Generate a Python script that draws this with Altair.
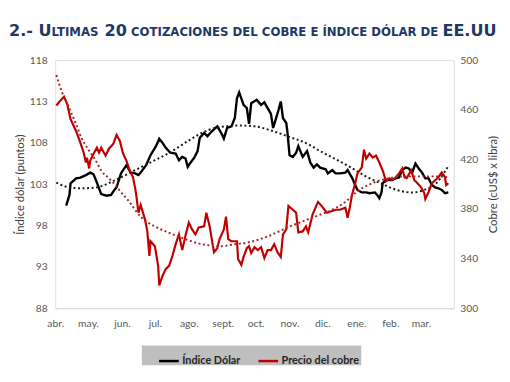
import json
import altair as alt
import pandas as pd

MESES = ["ene.", "feb.", "mar.", "abr.", "may.", "jun.", "jul.", "ago.", "sept.", "oct.", "nov.", "dic."]
SERIES = ["Índice Dólar", "Precio del cobre"]
TICKS_DOLAR = [88, 93, 98, 103, 108, 113, 118]
TICKS_COBRE = [300, 340, 380, 420, 460, 500]

dolar_fecha = [
    "2022-04-11", "2022-04-14", "2022-04-15", "2022-04-20", "2022-04-24", "2022-04-29",
    "2022-05-03", "2022-05-06", "2022-05-09", "2022-05-11", "2022-05-13", "2022-05-18",
    "2022-05-22", "2022-05-25", "2022-05-27", "2022-05-31", "2022-06-05", "2022-06-09",
    "2022-06-13", "2022-06-16", "2022-06-18", "2022-06-23", "2022-06-27", "2022-07-02",
    "2022-07-05", "2022-07-08", "2022-07-11", "2022-07-15", "2022-07-20", "2022-07-23",
    "2022-07-26", "2022-07-29", "2022-07-31", "2022-08-02", "2022-08-06", "2022-08-09",
    "2022-08-11", "2022-08-15", "2022-08-18", "2022-08-22", "2022-08-27", "2022-08-31",
    "2022-09-02", "2022-09-05", "2022-09-09", "2022-09-12", "2022-09-14", "2022-09-16",
    "2022-09-20", "2022-09-23", "2022-09-25", "2022-09-27", "2022-10-02", "2022-10-06",
    "2022-10-09", "2022-10-12", "2022-10-15", "2022-10-17", "2022-10-20", "2022-10-22",
    "2022-10-24", "2022-10-26", "2022-10-29", "2022-10-30", "2022-11-01", "2022-11-04",
    "2022-11-07", "2022-11-09", "2022-11-13", "2022-11-17", "2022-11-20", "2022-11-23",
    "2022-11-26", "2022-11-29", "2022-12-04", "2022-12-06", "2022-12-10", "2022-12-13",
    "2022-12-17", "2022-12-22", "2022-12-24", "2022-12-28", "2022-12-31", "2023-01-02",
    "2023-01-06", "2023-01-10", "2023-01-13", "2023-01-18", "2023-01-20", "2023-01-22",
    "2023-01-24", "2023-01-25", "2023-01-28", "2023-02-02", "2023-02-06", "2023-02-09",
    "2023-02-12", "2023-02-15", "2023-02-18", "2023-02-21", "2023-02-24", "2023-02-27",
    "2023-03-02", "2023-03-05", "2023-03-08", "2023-03-11", "2023-03-14", "2023-03-17",
    "2023-03-20", "2023-03-23", "2023-03-26",
]
dolar_valor = [
    100.4, 101.7, 103.1, 103.7, 103.8, 104.1,
    104.4, 104.2, 103.2, 102.5, 101.8, 101.6,
    101.7, 102.3, 102.6, 104.3, 105.3, 104.4,
    104.3, 104.1, 104.4, 105.3, 106.5, 107.6,
    108.5, 108.0, 107.4, 106.8, 106.7, 105.9,
    106.3, 106.1, 105.1, 105.5, 106.2, 107.0,
    108.6, 109.2, 108.8, 109.4, 110.0, 109.1,
    108.5, 109.8, 110.0, 111.0, 113.4, 114.1,
    112.6, 112.2, 110.3, 112.8, 113.2, 112.6,
    112.9, 112.2, 111.5, 109.8, 111.1, 112.0,
    113.0, 111.0, 110.4, 109.4, 106.5, 106.3,
    106.8, 107.6, 106.3, 107.0, 105.6, 105.0,
    105.4, 105.0, 104.8, 104.3, 104.7, 104.3,
    104.3, 104.4, 104.7, 103.8, 102.9, 102.3,
    102.0, 102.0, 101.9, 102.0, 101.7, 101.3,
    102.0, 103.1, 103.5, 103.5, 103.7, 103.8,
    104.7, 105.0, 104.9, 104.4, 105.5, 104.9,
    104.4, 103.7, 103.7, 102.9, 102.6, 102.5,
    102.3, 101.9, 102.0,
]

cobre_fecha = [
    "2022-04-02", "2022-04-05", "2022-04-09", "2022-04-12", "2022-04-15", "2022-04-20",
    "2022-04-24", "2022-04-27", "2022-04-29", "2022-04-30", "2022-05-02", "2022-05-03",
    "2022-05-06", "2022-05-09", "2022-05-11", "2022-05-13", "2022-05-17", "2022-05-20",
    "2022-05-24", "2022-05-27", "2022-05-30", "2022-06-02", "2022-06-05", "2022-06-08",
    "2022-06-11", "2022-06-13", "2022-06-14", "2022-06-16", "2022-06-18", "2022-06-22",
    "2022-06-24", "2022-06-26", "2022-06-27", "2022-07-01", "2022-07-04", "2022-07-05",
    "2022-07-08", "2022-07-11", "2022-07-14", "2022-07-17", "2022-07-20", "2022-07-23",
    "2022-07-26", "2022-07-29", "2022-08-01", "2022-08-04", "2022-08-07", "2022-08-10",
    "2022-08-15", "2022-08-17", "2022-08-20", "2022-08-24", "2022-08-27", "2022-08-29",
    "2022-09-02", "2022-09-04", "2022-09-06", "2022-09-09", "2022-09-14", "2022-09-15",
    "2022-09-18", "2022-09-20", "2022-09-23", "2022-09-25", "2022-09-27", "2022-09-30",
    "2022-10-03", "2022-10-06", "2022-10-09", "2022-10-12", "2022-10-15", "2022-10-18",
    "2022-10-21", "2022-10-24", "2022-10-26", "2022-10-29", "2022-10-31", "2022-11-04",
    "2022-11-07", "2022-11-09", "2022-11-13", "2022-11-16", "2022-11-18", "2022-11-22",
    "2022-11-25", "2022-11-27", "2022-12-01", "2022-12-05", "2022-12-08", "2022-12-13",
    "2022-12-17", "2022-12-22", "2022-12-24", "2022-12-26", "2022-12-28", "2022-12-31",
    "2023-01-02", "2023-01-06", "2023-01-08", "2023-01-10", "2023-01-13", "2023-01-16",
    "2023-01-19", "2023-01-22", "2023-01-25", "2023-01-27", "2023-01-28", "2023-01-31",
    "2023-02-03", "2023-02-06", "2023-02-09", "2023-02-12", "2023-02-14", "2023-02-16",
    "2023-02-20", "2023-02-23", "2023-02-25", "2023-03-01", "2023-03-04", "2023-03-05",
    "2023-03-08", "2023-03-11", "2023-03-14", "2023-03-17", "2023-03-20", "2023-03-23",
    "2023-03-24", "2023-03-26",
]
cobre_valor = [
    463.5, 466.7, 470.6, 464.3, 452.4, 442.9,
    433.3, 425.4, 417.5, 421.4, 412.7, 419.0,
    424.6, 429.4, 425.4, 429.4, 423.0, 428.6,
    432.5, 439.7, 434.9, 424.6, 419.0, 411.1,
    405.6, 396.8, 391.3, 377.0, 383.3, 371.4,
    362.7, 342.1, 354.0, 350.0, 334.1, 318.3,
    326.2, 331.7, 334.1, 342.1, 351.6, 359.5,
    346.8, 358.7, 369.0, 363.5, 359.5, 365.1,
    366.0, 377.0, 366.0, 345.2, 348.4, 355.6,
    363.5, 373.8, 355.6, 354.0, 354.0, 339.7,
    334.9, 341.3, 348.4, 350.0, 344.4, 349.2,
    346.8, 349.2, 340.5, 346.8, 346.8, 351.6,
    345.2, 341.3, 359.5, 363.5, 382.5, 379.4,
    377.0, 361.1, 361.9, 365.9, 361.1, 375.4,
    381.7, 385.7, 381.7, 377.0, 377.8, 379.4,
    379.4, 381.0, 373.0, 381.0, 391.3, 400.8,
    408.7, 413.5, 427.8, 420.6, 424.6, 421.4,
    423.0, 417.5, 411.1, 405.6, 402.4, 404.8,
    403.2, 405.6, 408.7, 412.7, 405.6, 404.8,
    411.1, 403.2, 401.6, 397.6, 392.9, 388.1,
    393.7, 400.8, 403.2, 405.6, 409.5, 405.6,
    399.2, 400.8,
]

# Líneas de tendencia (polinómicas)
tend_dolar_fecha = [
    "2022-04-02", "2022-04-14", "2022-04-25", "2022-05-08", "2022-05-26", "2022-06-13",
    "2022-07-01", "2022-07-13", "2022-07-31", "2022-08-13", "2022-08-25", "2022-09-15",
    "2022-09-30", "2022-10-15", "2022-10-30", "2022-11-17", "2022-11-29", "2022-12-12",
    "2022-12-26", "2023-01-09", "2023-01-25", "2023-02-07", "2023-02-20", "2023-03-04",
    "2023-03-15", "2023-03-26",
]
tend_dolar_valor = [
    103.2, 102.6, 102.5, 102.6, 103.5, 104.7,
    105.9, 106.7, 108.2, 109.2, 109.8, 110.1,
    110.0, 109.5, 108.8, 107.9, 107.0, 106.1,
    105.1, 104.0, 103.0, 102.3, 102.0, 102.3,
    103.1, 105.2,
]
tend_cobre_fecha = [
    "2022-04-02", "2022-04-07", "2022-04-14", "2022-04-20", "2022-04-25", "2022-05-02",
    "2022-05-08", "2022-05-13", "2022-05-20", "2022-05-26", "2022-05-31", "2022-06-07",
    "2022-06-18", "2022-07-01", "2022-07-13", "2022-07-22", "2022-08-13", "2022-08-31",
    "2022-09-12", "2022-09-24", "2022-10-12", "2022-10-30", "2022-11-17", "2022-11-29",
    "2022-12-10", "2022-12-22", "2022-12-31", "2023-01-18", "2023-01-31", "2023-02-14",
    "2023-02-27", "2023-03-13", "2023-03-26",
]
tend_cobre_valor = [
    488.0, 474.6, 461.0, 448.4, 437.3, 427.0,
    419.0, 411.0, 404.8, 399.2, 393.7, 386.5,
    373.8, 365.9, 361.1, 357.9, 351.6, 350.0,
    351.6, 353.0, 357.9, 365.0, 371.4, 375.4,
    379.4, 385.7, 392.9, 401.6, 404.8, 406.3,
    406.3, 406.3, 405.6,
]

TITULO_PARTES = ["2.- U", "LTIMAS", "20", "COTIZACIONES DEL COBRE E ÍNDICE DÓLAR DE", "EE.UU"]
TITULO_GRANDE = [True, False, True, False, True]

FONT = "Lato"
GRIS = "#595959"

df_d = pd.DataFrame({"fecha": dolar_fecha, "valor": dolar_valor, "serie": SERIES[0]})
df_c = pd.DataFrame({"fecha": cobre_fecha, "valor": cobre_valor, "serie": SERIES[1]})
df_td = pd.DataFrame({"fecha": tend_dolar_fecha, "valor": tend_dolar_valor})
df_tc = pd.DataFrame({"fecha": tend_cobre_fecha, "valor": tend_cobre_valor})

x_values = [alt.DateTime(year=2022 + (m < 4), month=m, date=1, utc=True)
            for m in [4, 5, 6, 7, 8, 9, 10, 11, 12, 1, 2, 3]]
x_scale = alt.Scale(type="utc", domain=[alt.DateTime(year=2022, month=4, date=1, utc=True),
                                        alt.DateTime(year=2023, month=3, date=31, utc=True)])
label_expr = json.dumps(MESES) + "[utcmonth(datum.value)]"
x_axis = alt.Axis(title=None, values=x_values, labelExpr=label_expr, grid=False, ticks=False,
                  domain=True, domainColor="#D9D9D9", domainWidth=1, labelPadding=11,
                  labelOverlap=False, labelFlush=False, labelFont=FONT, labelFontSize=10.5,
                  labelColor=GRIS)

yL = alt.Scale(domain=[88, 118], nice=False, zero=False)
yR = alt.Scale(domain=[300, 500], nice=False, zero=False)

axis_common = dict(grid=False, ticks=False, domain=False, labelFont=FONT, labelFontSize=10.5,
                   labelColor=GRIS, titleFont=FONT, titleFontSize=11.5, titleFontWeight="normal",
                   titleColor="#404040", titleAngle=270, titleAlign="center",
                   titleBaseline="middle", titleY=126)
axisL = alt.Axis(values=TICKS_DOLAR, title="Índice dólar (puntos)", orient="left",
                 labelPadding=8, titleX=-35, **axis_common)
axisR = alt.Axis(values=TICKS_COBRE, title="Cobre (cUS$ x libra)", orient="right",
                 labelPadding=6, titleX=40, **axis_common)

color = alt.Color("serie:N", scale=alt.Scale(domain=SERIES, range=["#000000", "#C00000"]),
                  legend=alt.Legend(orient="none", legendX=104, legendY=294, direction="horizontal",
                                    title=None, symbolType="stroke", symbolSize=400,
                                    symbolStrokeWidth=2.5, labelFont=FONT, labelFontWeight="bold",
                                    labelFontSize=11, labelColor="#262626", labelOffset=2,
                                    columnPadding=12, padding=0))

X = alt.X("fecha:T", scale=x_scale, axis=x_axis)

linea_d = alt.Chart(df_d).mark_line(strokeWidth=2.4).encode(
    x=X, y=alt.Y("valor:Q", scale=yL, axis=axisL), color=color,
)
tend_d = alt.Chart(df_td).mark_line(
    strokeWidth=2, strokeDash=[2, 2.6], color="#1a1a1a", interpolate="monotone"
).encode(x=X, y=alt.Y("valor:Q", scale=yL, axis=axisL))

linea_c = alt.Chart(df_c).mark_line(strokeWidth=2.2).encode(
    x=X, y=alt.Y("valor:Q", scale=yR, axis=axisR), color=color,
)
tend_c = alt.Chart(df_tc).mark_line(
    strokeWidth=2, strokeDash=[2, 2.6], color="#A8262A", interpolate="monotone"
).encode(x=X, y=alt.Y("valor:Q", scale=yR, axis=axisR))

dummy = pd.DataFrame({"a": [0]})
caja = alt.Chart(dummy).mark_rect(color="#BFBFBF").encode(
    x=alt.value(88), x2=alt.value(311), y=alt.value(290), y2=alt.value(310)
)

GRANDE, CHICO = 16.3, 11.9
titulo_x = [-47, -3.8, 50.1, 77.0, 393.5]
titulos = []
for txt, grande, xp in zip(TITULO_PARTES, TITULO_GRANDE, titulo_x):
    titulos.append(
        alt.Chart(dummy).mark_text(
            align="left", baseline="alphabetic", font="DejaVu Sans", fontWeight="bold",
            fontSize=GRANDE if grande else CHICO, color="#1F3864"
        ).encode(x=alt.value(xp), y=alt.value(-24.5), text=alt.value(txt))
    )

izq = alt.layer(linea_d, tend_d)
der = alt.layer(linea_c, tend_c)
chart = alt.layer(caja, izq, der, *titulos).resolve_scale(y="independent").properties(
    width=405, height=252,
    padding={"left": 48, "top": 50, "right": 49, "bottom": 72},
    autosize=alt.AutoSizeParams(type="none"),
).configure_view(stroke=None).configure(background="white").configure_axisX(
    labelOverlap=False, labelFlush=False
)

chart.save("out.html", embed_options={"renderer": "svg", "actions": False})
